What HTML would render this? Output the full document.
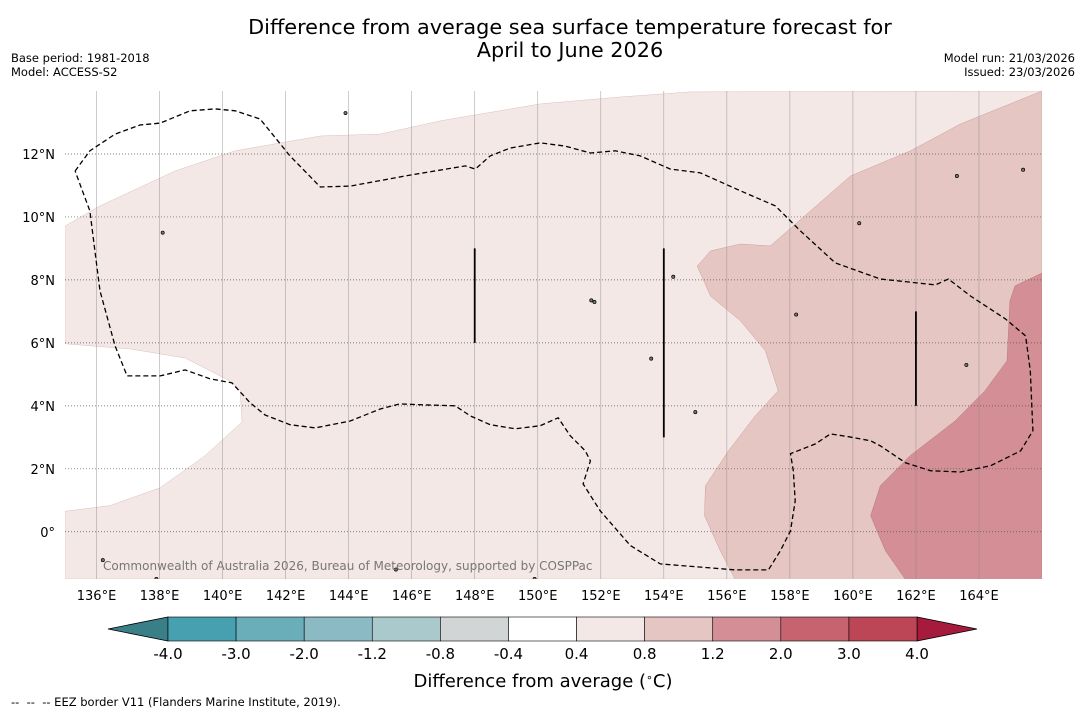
<!DOCTYPE html>
<html><head><meta charset="utf-8"><style>
body{margin:0;background:#fff;width:1085px;height:713px;overflow:hidden;font-family:"Liberation Sans","DejaVu Sans",sans-serif}
svg{display:block}
</style></head><body>
<svg id="c" width="1085" height="713" font-family="DejaVu Sans, Liberation Sans, sans-serif">
<text x="570" y="34" text-anchor="middle" font-size="20.8">Difference from average sea surface temperature forecast for</text>
<text x="570" y="57" text-anchor="middle" font-size="20.8">April to June 2026</text>
<text x="11" y="62" font-size="11.5">Base period: 1981-2018</text>
<text x="11" y="76" font-size="11.5">Model: ACCESS-S2</text>
<text x="1075" y="62" font-size="11.5" text-anchor="end">Model run: 21/03/2026</text>
<text x="1075" y="76" font-size="11.5" text-anchor="end">Issued: 23/03/2026</text>
<g id="map"></g>
<g id="cb"></g>
<text x="543" y="687" text-anchor="middle" font-size="18">Difference from average (<tspan baseline-shift="super" font-size="11">∘</tspan>C)</text>
<text x="11" y="706" font-size="11.5">-- &#160;-- &#160;-- EEZ border V11 (Flanders Marine Institute, 2019).</text>
</svg>
<script>
const NS="http://www.w3.org/2000/svg";
const lonTicks=[136,138,140,142,144,146,148,150,152,154,156,158,160,162,164];
const latTicks=[0,2,4,6,8,10,12];
const levels=["-4.0","-3.0","-2.0","-1.2","-0.8","-0.4","0.4","0.8","1.2","2.0","3.0","4.0"];
const levelColors=["#46a0b0","#6aaeba","#8bb9c4","#aac9cd","#d2d5d5","#ffffff","#f4e8e7","#e6c6c2","#d48e95","#c6636e","#bc4556"];
const lowExtendColor="#3a7f88", highExtendColor="#a61a3c";
const lightRegion=[[135,9.71],[136.11,10.35],[138.49,11.46],[140.4,12.1],[143.1,12.57],[145,12.63],[146.9,13.05],[150.08,13.59],[152.62,13.81],[154.84,13.97],[166,14],[166,-1.5],[135,-1.5],[135,0.65],[136.43,0.83],[138.02,1.4],[139.44,2.41],[140.62,3.49],[140.56,4.48],[140.24,4.79],[138.81,5.52],[137.06,5.81],[135,5.97]];
const midRegion=[[166,14],[163.4,12.95],[161.83,12.1],[159.92,11.3],[158.65,10.19],[157.38,9.08],[156.43,9.14],[155.48,8.92],[155.06,8.44],[155.48,7.49],[156.43,6.7],[157.22,5.75],[157.63,4.48],[156.9,3.68],[156.05,2.57],[155.32,1.46],[155.29,0.51],[155.79,-0.6],[156.27,-1.52],[166,-1.52]];
const darkRegion=[[166,8.22],[165.14,7.81],[164.98,7.33],[164.89,5.43],[164.19,4.48],[163.24,3.52],[161.81,2.41],[160.87,1.46],[160.56,0.51],[161.03,-0.6],[161.67,-1.52],[166,-1.52]];
const eez=[[135.32,11.46],[135.79,12.1],[136.59,12.63],[137.38,12.92],[138.02,12.98],[138.97,13.37],[139.76,13.43],[140.4,13.37],[141.19,13.11],[142.14,11.94],[143.1,10.95],[144.05,10.98],[145.95,11.33],[147.7,11.62],[148.02,11.52],[148.49,11.94],[149.13,12.19],[150.08,12.35],[150.87,12.25],[151.67,12.03],[152.46,12.1],[153.25,11.94],[154.21,11.52],[155.16,11.4],[156.43,10.83],[157.54,10.35],[158.33,9.56],[159.44,8.54],[160.87,8.03],[162.62,7.84],[163.03,8.03],[163.73,7.49],[164.84,6.76],[165.48,6.22],[165.63,5.11],[165.71,3.21],[165.32,2.57],[164.37,2.1],[163.41,1.9],[162.46,1.94],[161.67,2.19],[160.87,2.73],[160.56,2.89],[159.86,3.02],[159.29,3.11],[158.81,2.79],[158.02,2.48],[158.11,1.94],[158.17,0.98],[158.02,0.03],[157.7,-0.6],[157.32,-1.21],[156.27,-1.21],[153.89,-1.02],[152.94,-0.44],[151.98,0.67],[151.44,1.52],[151.67,2.25],[151.51,2.57],[151.03,3.05],[150.65,3.62],[150.08,3.37],[149.29,3.27],[148.49,3.4],[147.86,3.68],[147.38,4.0],[146.43,4.03],[145.63,4.06],[145,3.9],[144.05,3.52],[142.94,3.3],[142.14,3.4],[141.35,3.71],[140.87,4.1],[140.3,4.73],[139.6,4.86],[138.81,5.14],[138.02,4.95],[136.97,4.95],[136.59,5.9],[136.11,7.65],[135.95,8.92],[135.79,10.19],[135.32,11.46]];
const borderSegments=[[148,9,6],[154,9,3],[162,7,4]];
const islands=[[138.1,9.5],[143.9,13.3],[151.8,7.3],[151.7,7.35],[158.2,6.9],[163.6,5.3],[154.3,8.1],[160.2,9.8],[163.3,11.3],[165.4,11.5],[136.2,-0.9],[137.9,-1.5],[149.9,-1.5],[145.5,-1.2],[153.6,5.5],[155,3.8]];

const LON0=135,LON1=166,LAT0=-1.5,LAT1=14;
const X0=65,X1=1042,Y0=91,Y1=579;
const px=l=>X0+(l-LON0)/(LON1-LON0)*(X1-X0);
const py=l=>Y1-(l-LAT0)/(LAT1-LAT0)*(Y1-Y0);
const pts=a=>a.map(p=>px(p[0]).toFixed(1)+","+py(p[1]).toFixed(1)).join(" ");
const map=document.getElementById("map");
function mk(tag,attrs,parent){const e=document.createElementNS(NS,tag);for(const k in attrs)e.setAttribute(k,attrs[k]);(parent||map).appendChild(e);return e;}
let e;
e=mk("clipPath",{id:"clip"});mk("rect",{x:X0,y:Y0,width:X1-X0,height:Y1-Y0},e);
const g=mk("g",{"clip-path":"url(#clip)"});


e=mk("rect",{x:X0,y:Y0,width:X1-X0,height:Y1-Y0,fill:"#fff"},g);
e=mk("polygon",{points:pts(lightRegion),fill:levelColors[6],stroke:"#d8c0bd","stroke-width":0.5},g);


e=mk("polygon",{points:pts(midRegion),fill:levelColors[7],stroke:"#c9a09c","stroke-width":0.5},g);


e=mk("polygon",{points:pts(darkRegion),fill:levelColors[8],stroke:"#b57a80","stroke-width":0.5},g);


lonTicks.forEach(l=>{
 e=mk("line",{x1:px(l),x2:px(l),y1:Y0,y2:Y1,stroke:"#888","stroke-width":0.6,"stroke-opacity":0.7},g);
 
 
 e=mk("text",{x:px(l),y:600,"text-anchor":"middle","font-size":13},map);
 e.textContent=l+"°E";
 
 
});
latTicks.forEach(l=>{
 e=mk("line",{x1:X0,x2:X1,y1:py(l),y2:py(l),stroke:"#555","stroke-width":0.7,"stroke-dasharray":"1,2"},g);
 
 
 e=mk("text",{x:55,y:py(l)+5,"text-anchor":"end","font-size":13},map);
 e.textContent=l===0?"0°":l+"°N";
 
 
});
e=mk("polyline",{points:pts(eez),fill:"none",stroke:"#000","stroke-width":1.3,"stroke-dasharray":"5,3"},g);


borderSegments.forEach(s=>{
 e=mk("line",{x1:px(s[0]),x2:px(s[0]),y1:py(s[1]),y2:py(s[2]),stroke:"#000","stroke-width":1.8},g);
 
 
});
islands.forEach(p=>{
 e=mk("circle",{cx:px(p[0]),cy:py(p[1]),r:1.6,fill:"#777",stroke:"#000","stroke-width":0.7},g);
 
 
});
e=mk("text",{x:103,y:570,"font-size":12,fill:"#777"},g);
e.textContent="Commonwealth of Australia 2026, Bureau of Meteorology, supported by COSPPac";



const cb=document.getElementById("cb");
const CB0=168,CB1=917,CBY=617,CBH=24;
const bw=(CB1-CB0)/levelColors.length;
e=mk("polygon",{points:`${CB0},${CBY} ${CB0},${CBY+CBH} 108,${CBY+CBH/2}`,fill:lowExtendColor,stroke:"#000","stroke-width":0.8},cb);


e=mk("polygon",{points:`${CB1},${CBY} ${CB1},${CBY+CBH} 977,${CBY+CBH/2}`,fill:highExtendColor,stroke:"#000","stroke-width":0.8},cb);


levelColors.forEach((c,i)=>{
 e=mk("rect",{x:CB0+i*bw,y:CBY,width:bw,height:CBH,fill:c,stroke:"#000","stroke-width":0.6},cb);
 
 
});
levels.forEach((t,i)=>{
 e=mk("text",{x:CB0+i*bw,y:659,"text-anchor":"middle","font-size":15},cb);
 e.textContent=t;
 
 
});
</script>
</body></html>
